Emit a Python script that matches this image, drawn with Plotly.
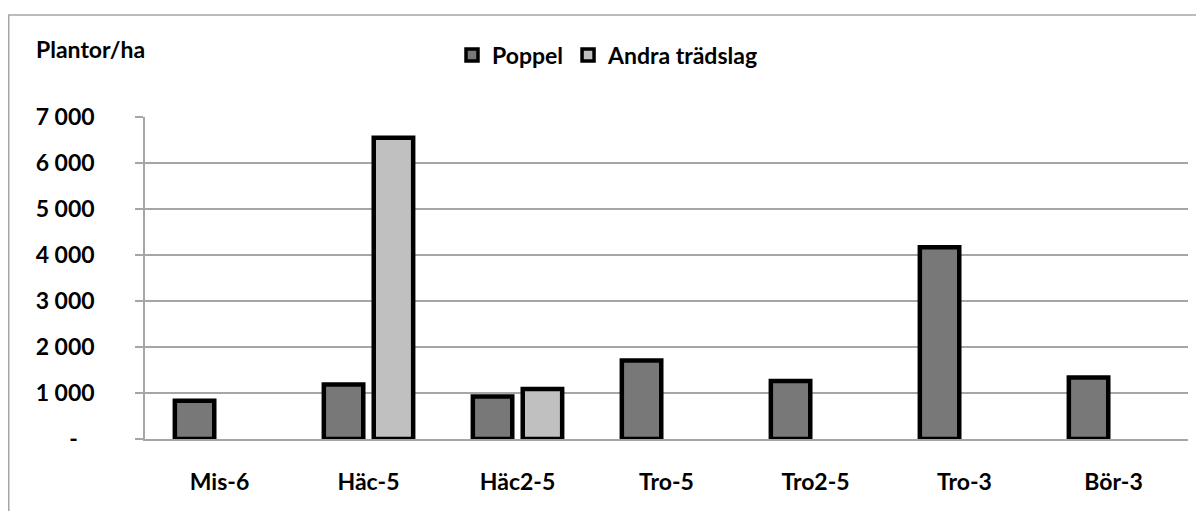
import plotly.graph_objects as go

categories = ["Mis-6", "Häc-5", "Häc2-5", "Tro-5", "Tro2-5", "Tro-3", "Bör-3"]
poppel = [830, 1185, 925, 1705, 1260, 4170, 1335]
andra = [None, 6550, 1085, None, None, None, None]
series_names = ["Poppel", "Andra trädslag"]
series_colors = ["#787878", "#c0c0c0"]
tick_vals = [0, 1000, 2000, 3000, 4000, 5000, 6000, 7000]
tick_text = ["-\u00a0\u00a0\u00a0", "1 000", "2 000", "3 000", "4 000", "5 000", "6 000", "7 000"]

FONT = "Lato"
FS = 23
GRID = "#a6a6a6"
OFF = 8  # default page body margin

W, H = 1204 - OFF, 511 - OFF
ML, MR, MT, MB = 145 - OFF, 16, 117 - OFF, 72
PW, PH = W - ML - MR, H - MT - MB

tf = dict(family=FONT, size=FS, color="#000000", weight="bold")

fig = go.Figure()
for name, vals, col in zip(series_names, [poppel, andra], series_colors):
    fig.add_trace(go.Bar(
        x=categories, y=vals, name=name, showlegend=False, legendgroup=name,
        marker=dict(color=col, line=dict(color="#000000", width=4.5)),
    ))
# legend-only entries (square swatches with a thick black border)
for name, col in zip(series_names, series_colors):
    fig.add_trace(go.Scatter(
        x=[None], y=[None], mode="markers", name=name, legendgroup=name,
        marker=dict(symbol="square", size=12, color=col,
                    line=dict(color="#000000", width=3.5)),
    ))

fig.update_layout(
    width=W, height=H,
    margin=dict(l=ML, r=MR, t=MT, b=MB),
    paper_bgcolor="white", plot_bgcolor="white",
    barmode="group", bargap=0.33, bargroupgap=0.21,
    font=tf,
    showlegend=True,
    legend=dict(
        orientation="h", x=(452 - OFF) / W, xref="container", xanchor="left",
        y=1 - (55 - OFF) / H, yref="container", yanchor="middle",
        font=tf, itemwidth=30, traceorder="normal",
    ),
    xaxis=dict(
        showgrid=False, showline=True, linecolor=GRID, linewidth=1.5,
        ticks="", ticklabelstandoff=22, tickfont=tf,
    ),
    yaxis=dict(
        range=[0, 7000], tickvals=tick_vals, ticktext=tick_text,
        showgrid=True, gridcolor=GRID, gridwidth=1.5,
        showline=True, linecolor=GRID, linewidth=1.5,
        ticks="outside", ticklen=8, tickcolor=GRID, tickwidth=1.5,
        ticklabelstandoff=36, zeroline=False, tickfont=tf,
    ),
    annotations=[dict(
        text="Plantor/ha", xref="paper", yref="paper",
        x=(34 - OFF - ML) / PW, y=1 + (MT - (49 - OFF)) / PH,
        xanchor="left", yanchor="middle", showarrow=False, font=tf,
    )],
    shapes=[dict(
        type="rect", xref="paper", yref="paper",
        x0=(0.75 - ML) / PW, x1=1 + (MR + 10) / PW,
        y0=-(MB + 10) / PH, y1=1 + (MT - (15 - OFF)) / PH,
        line=dict(color=GRID, width=1.5), fillcolor="rgba(0,0,0,0)",
        layer="below",
    )],
)

fig.write_html("out.html")
